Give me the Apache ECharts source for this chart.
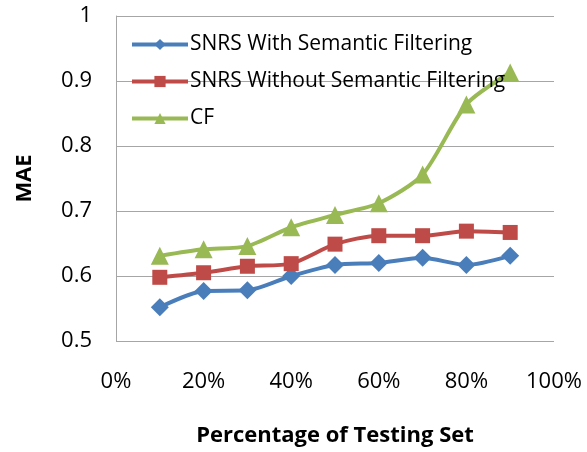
<!DOCTYPE html>
<html>
<head>
<meta charset="utf-8">
<script src="https://cdn.jsdelivr.net/npm/echarts@6/dist/echarts.min.js"></script>
<style>
  html, body { margin: 0; padding: 0; background: #fff; }
  #chart { width: 587px; height: 452px; }
</style>
</head>
<body>
<div id="chart"></div>
<script>
// testing set percentages
var xValues = [0.1, 0.2, 0.3, 0.4, 0.5, 0.6, 0.7, 0.8, 0.9];
var withFiltering = [0.552, 0.577, 0.578, 0.600, 0.617, 0.620, 0.628, 0.617, 0.631];
var withoutFiltering = [0.598, 0.605, 0.615, 0.619, 0.649, 0.662, 0.662, 0.669, 0.667];
var cfValues = [0.631, 0.641, 0.646, 0.675, 0.694, 0.712, 0.756, 0.864, 0.913];
var seriesNames = ['SNRS With Semantic Filtering', 'SNRS Without Semantic Filtering', 'CF'];

function pairs(vals) {
    return vals.map(function (v, i) { return [xValues[i], v]; });
}

var chart = echarts.init(document.getElementById('chart'));
var font = 'Open Sans, Noto Sans, sans-serif';

chart.setOption({
    animation: false,
    backgroundColor: '#fff',
    grid: { left: 116, right: 33, top: 16, bottom: 110 },
    legend: {
        orient: 'vertical',
        left: 125,
        top: 29,
        itemWidth: 56,
        itemHeight: 14,
        itemGap: 16,
        lineStyle: { width: 4 },
        textStyle: { fontFamily: font, fontSize: 21, color: '#000', padding: [0, 0, 0, -3] },
        data: seriesNames
    },
    xAxis: {
        type: 'value',
        min: 0,
        max: 1,
        interval: 0.2,
        name: 'Percentage of Testing Set',
        nameLocation: 'middle',
        nameGap: 84,
        nameTextStyle: { fontFamily: font, fontSize: 22, fontWeight: 'bold', color: '#000' },
        axisLine: { show: false },
        axisTick: { show: false },
        splitLine: { show: false },
        axisLabel: {
            margin: 30,
            fontFamily: font, fontSize: 22, color: '#000',
            formatter: function (v) { return Math.round(v * 100) + '%'; }
        }
    },
    yAxis: {
        type: 'value',
        min: 0.5,
        max: 1,
        interval: 0.1,
        name: 'MAE',
        nameLocation: 'middle',
        nameGap: 80,
        nameRotate: 90,
        nameTextStyle: { fontFamily: font, fontSize: 22, fontWeight: 'bold', color: '#000' },
        axisLine: { show: true, lineStyle: { color: '#a6a6a6', width: 1 } },
        axisTick: { show: false },
        splitLine: { show: true, lineStyle: { color: '#a6a6a6', width: 1 } },
        axisLabel: {
            margin: 24,
            fontFamily: font, fontSize: 22, color: '#000',
            formatter: function (v) { return v === 1 ? '1' : v.toFixed(1); }
        }
    },
    series: [
        {
            name: seriesNames[0], type: 'line', smooth: 0.25,
            symbol: 'diamond', symbolSize: 18,
            lineStyle: { color: '#4a7ebb', width: 4 },
            itemStyle: { color: '#4a7ebb' },
            data: pairs(withFiltering)
        },
        {
            name: seriesNames[1], type: 'line', smooth: 0.25,
            symbol: 'rect', symbolSize: 15,
            lineStyle: { color: '#be4b48', width: 4 },
            itemStyle: { color: '#be4b48' },
            data: pairs(withoutFiltering)
        },
        {
            name: seriesNames[2], type: 'line', smooth: 0.25,
            symbol: 'triangle', symbolSize: 18,
            lineStyle: { color: '#98b954', width: 4 },
            itemStyle: { color: '#98b954' },
            data: pairs(cfValues)
        }
    ]
});
</script>
</body>
</html>
